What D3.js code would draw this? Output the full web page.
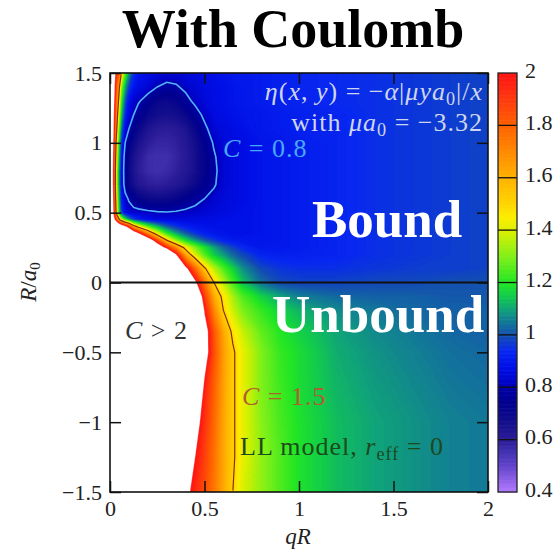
<!DOCTYPE html>
<html><head><meta charset="utf-8">
<script src="https://cdn.jsdelivr.net/npm/d3@7"></script>
<style>body{margin:0;background:#fff} svg{display:block}</style>
</head><body>
<svg id="c" width="557" height="550"></svg>
<script>
// ---- data ----
const qR = [0, 0.01, 0.02, 0.03, 0.04, 0.05, 0.06, 0.08, 0.1, 0.125, 0.15, 0.2, 0.25, 0.3, 0.35, 0.4, 0.45, 0.5, 0.55, 0.6, 0.65, 0.7, 0.8, 0.9, 1.0, 1.2, 1.4, 1.6, 1.8, 2.0];
const Ra0 = [1.5, 1.4, 1.3, 1.2, 1.1, 1.0, 0.9, 0.8, 0.7, 0.6, 0.5, 0.45, 0.4, 0.35, 0.3, 0.25, 0.2, 0.1, 0, -0.1, -0.2, -0.35, -0.5, -0.75, -1.0, -1.25, -1.5];
const C_rows = [
 [3,2.6,2.2,1.95,1.85,1.75,1.5,1.25,1.08,0.95,0.9,0.87,0.85,0.84,0.84,0.85,0.86,0.87,0.88,0.89,0.9,0.9,0.91,0.92,0.93,0.94,0.95,0.96,0.97,0.98],
 [3,2.5,2.1,1.85,1.7,1.5,1.3,1.1,0.97,0.9,0.87,0.84,0.8,0.78,0.79,0.82,0.84,0.86,0.87,0.88,0.89,0.9,0.91,0.92,0.93,0.94,0.95,0.96,0.97,0.98],
 [3,2.4,2.05,1.8,1.6,1.4,1.2,1.0,0.88,0.83,0.81,0.76,0.71,0.7,0.72,0.77,0.82,0.85,0.87,0.88,0.89,0.9,0.91,0.92,0.93,0.94,0.95,0.96,0.97,0.98],
 [3,2.35,2.0,1.75,1.5,1.3,1.12,0.93,0.85,0.8,0.76,0.7,0.67,0.66,0.67,0.7,0.76,0.82,0.86,0.87,0.88,0.89,0.9,0.91,0.92,0.93,0.95,0.96,0.97,0.98],
 [3,2.3,1.95,1.65,1.4,1.2,1.03,0.87,0.8,0.74,0.7,0.64,0.61,0.6,0.61,0.64,0.7,0.78,0.84,0.86,0.87,0.88,0.9,0.91,0.92,0.93,0.95,0.96,0.97,0.98],
 [3,2.25,1.9,1.55,1.3,1.1,0.95,0.8,0.74,0.69,0.65,0.6,0.58,0.58,0.59,0.62,0.67,0.74,0.81,0.85,0.86,0.87,0.89,0.9,0.91,0.93,0.95,0.96,0.97,0.98],
 [3,2.2,1.85,1.5,1.25,1.05,0.9,0.76,0.7,0.65,0.61,0.57,0.56,0.56,0.58,0.61,0.66,0.72,0.79,0.84,0.86,0.87,0.89,0.9,0.91,0.93,0.95,0.96,0.97,0.98],
 [3,2.2,1.8,1.45,1.2,1.02,0.88,0.75,0.69,0.64,0.6,0.57,0.56,0.57,0.59,0.62,0.66,0.72,0.78,0.84,0.86,0.87,0.89,0.9,0.91,0.93,0.95,0.96,0.97,0.98],
 [3,2.2,1.8,1.45,1.2,1.02,0.88,0.76,0.7,0.66,0.63,0.6,0.59,0.6,0.62,0.65,0.69,0.74,0.79,0.84,0.86,0.87,0.89,0.9,0.91,0.93,0.95,0.96,0.97,0.98],
 [3,2.25,1.85,1.5,1.25,1.05,0.92,0.83,0.79,0.75,0.72,0.69,0.68,0.69,0.71,0.74,0.77,0.8,0.83,0.85,0.86,0.87,0.89,0.9,0.91,0.93,0.95,0.96,0.97,0.98],
 [3,2.3,1.9,1.55,1.3,1.1,0.97,0.87,0.84,0.83,0.83,0.82,0.81,0.805,0.81,0.82,0.83,0.84,0.85,0.86,0.87,0.88,0.89,0.9,0.91,0.93,0.95,0.96,0.97,0.98],
 [3,2.4,2.1,1.9,1.7,1.5,1.38,1.2,1.08,0.98,0.93,0.88,0.86,0.86,0.86,0.86,0.86,0.87,0.87,0.88,0.88,0.88,0.89,0.9,0.91,0.93,0.95,0.96,0.97,0.98],
 [3,3,2.8,2.6,2.4,2.3,2.2,2.05,1.9,1.6,1.45,1.25,1.12,1.02,0.96,0.92,0.9,0.89,0.88,0.88,0.88,0.88,0.89,0.9,0.91,0.93,0.95,0.96,0.97,0.98],
 [3,3,3,3,2.9,2.8,2.7,2.5,2.35,2.2,2.02,1.7,1.42,1.22,1.1,1.02,0.96,0.92,0.9,0.89,0.88,0.88,0.89,0.9,0.91,0.93,0.95,0.96,0.97,0.98],
 [3,3,3,3,3,3,3,3,3,2.9,2.6,2.2,1.85,1.52,1.32,1.18,1.09,1.02,0.97,0.93,0.91,0.9,0.89,0.9,0.91,0.93,0.95,0.96,0.97,0.98],
 [3,3,3,3,3,3,3,3,3,3,3,2.8,2.2,1.92,1.68,1.45,1.3,1.19,1.1,1.03,0.98,0.94,0.9,0.9,0.91,0.93,0.95,0.96,0.97,0.98],
 [3,3,3,3,3,3,3,3,3,3,3,3,2.8,2.5,2.0,1.62,1.4,1.25,1.15,1.09,1.03,0.99,0.93,0.92,0.92,0.93,0.95,0.96,0.97,0.98],
 [3,3,3,3,3,3,3,3,3,3,3,3,3,3,2.6,2.05,1.78,1.52,1.36,1.25,1.16,1.08,0.99,0.96,0.95,0.95,0.96,0.97,0.97,0.98],
 [3,3,3,3,3,3,3,3,3,3,3,3,3,3,3,2.6,2.04,1.75,1.5,1.36,1.24,1.14,1.04,0.99,0.98,0.98,0.99,0.99,1.0,1.0],
 [3,3,3,3,3,3,3,3,3,3,3,3,3,3,3,2.8,2.3,1.88,1.62,1.46,1.34,1.25,1.16,1.1,1.06,1.03,1.02,1.02,1.01,1.01],
 [3,3,3,3,3,3,3,3,3,3,3,3,3,3,3,2.9,2.5,1.98,1.7,1.5,1.38,1.3,1.22,1.16,1.12,1.07,1.05,1.03,1.02,1.02],
 [3,3,3,3,3,3,3,3,3,3,3,3,3,3,3,3,2.7,2.1,1.82,1.62,1.47,1.38,1.27,1.2,1.16,1.1,1.07,1.05,1.03,1.02],
 [3,3,3,3,3,3,3,3,3,3,3,3,3,3,3,3,2.7,2.1,1.84,1.65,1.52,1.42,1.3,1.22,1.18,1.11,1.08,1.06,1.04,1.03],
 [3,3,3,3,3,3,3,3,3,3,3,3,3,3,3,2.8,2.3,1.96,1.8,1.64,1.52,1.42,1.3,1.23,1.18,1.12,1.09,1.07,1.05,1.04],
 [3,3,3,3,3,3,3,3,3,3,3,3,3,3,3,2.6,2.08,1.92,1.78,1.63,1.52,1.42,1.31,1.24,1.19,1.13,1.1,1.08,1.06,1.05],
 [3,3,3,3,3,3,3,3,3,3,3,3,3,3,2.8,2.4,2.0,1.88,1.76,1.62,1.52,1.42,1.32,1.25,1.19,1.13,1.1,1.08,1.06,1.05],
 [3,3,3,3,3,3,3,3,3,3,3,3,3,3,2.7,2.05,1.94,1.85,1.74,1.62,1.5,1.4,1.32,1.25,1.19,1.13,1.1,1.08,1.06,1.05]
];
const xTicks = [0, 0.5, 1, 1.5, 2];
const yTicks = [-1.5, -1, -0.5, 0, 0.5, 1, 1.5];
const cbTicks = [0.4, 0.6, 0.8, 1, 1.2, 1.4, 1.6, 1.8, 2];
const lineLevels = [0.8, 1.5];
const cmapStops  = [0.4, 0.5, 0.55, 0.6, 0.68, 0.75, 0.8, 0.82, 0.88, 0.94, 1.0, 1.05, 1.1, 1.15, 1.2, 1.3, 1.4, 1.45, 1.5, 1.6, 1.7, 1.8, 1.9, 2.0];
const cmapColors = ['#b47cff','#6444cc','#4434b4','#2c1c98','#100c8c','#000090','#0000a8','#0004c8','#0010e8','#0828f0','#1450b0','#127898','#10a478','#12cc4c','#22e624','#80f01a','#dcf000','#fcee00','#ffd600','#ffb200','#ff8a00','#ff6200','#ff3a10','#ff1414'];

// ---- layout ----
const svg = d3.select('#c');
const L = 110, R = 488, T = 73, B = 492;
const x = d3.scaleLinear().domain([0, 2]).range([L, R]);
const y = d3.scaleLinear().domain([-1.5, 1.5]).range([B, T]);
const cmap = d3.scaleLinear().domain(cmapStops).range(cmapColors).clamp(true);
const SERIF = "'Liberation Serif', 'Times New Roman', serif";

const defs = svg.append('defs');
defs.append('clipPath').attr('id', 'plotclip').append('rect').attr('x', L).attr('y', T).attr('width', R - L).attr('height', B - T);
defs.append('clipPath').attr('id', 'lineclip').append('rect').attr('x', L + 1.5).attr('y', T + 1.5).attr('width', R - L - 3).attr('height', B - T - 3);

// ---- heat field via contours ----
const nx = qR.length, ny = Ra0.length;
const values = C_rows.flat();
const colToX = d3.scaleLinear().domain(d3.range(nx)).range(qR).clamp(true);
const rowToY = d3.scaleLinear().domain(d3.range(ny)).range(Ra0).clamp(true);
const proj = d3.geoTransform({ point(px, py) { this.stream.point(x(colToX(px - 0.5)), y(rowToY(py - 0.5))); } });
const path = d3.geoPath(proj);
const step = 0.005;
const thresholds = d3.range(0, 321).map(i => +(0.4 + i * step).toFixed(3));
const bands = d3.contours().size([nx, ny]).thresholds(thresholds)(values);

const gField = svg.append('g').attr('clip-path', 'url(#plotclip)');
gField.selectAll('path').data(bands).join('path')
  .attr('d', path)
  .attr('fill', d => d.value >= 2 ? '#ffffff' : cmap(d.value + step / 2))
  .attr('stroke', d => d.value >= 2 ? '#ffffff' : cmap(d.value + step / 2))
  .attr('stroke-width', 0.3);

// contour lines
const lines = d3.contours().size([nx, ny]).thresholds(lineLevels)(values);
svg.append('g').attr('clip-path', 'url(#lineclip)')
  .selectAll('path').data(lines).join('path')
  .attr('d', path).attr('fill', 'none')
  .attr('stroke', d => d.value === 0.8 ? '#50b4ff' : '#8a2a08')
  .attr('stroke-width', d => d.value === 0.8 ? 1.6 : 1.2);

// zero line
svg.append('line').attr('x1', L).attr('x2', R).attr('y1', y(0)).attr('y2', y(0))
  .attr('stroke', '#111').attr('stroke-width', 2);

// ---- axes ----
const fmt = v => (v < 0 ? '\u2212' : '') + Math.abs(v);
function styleAxis(g) {
  g.select('.domain').remove();
  g.selectAll('.tick line').attr('stroke', '#111').attr('stroke-width', 1.5);
  g.selectAll('.tick text').attr('font-family', SERIF).attr('font-size', 22).attr('fill', '#222');
}
svg.append('g').attr('transform', `translate(0,${B})`)
  .call(d3.axisBottom(x).tickValues(xTicks).tickSize(-11).tickPadding(8).tickFormat(fmt)).call(styleAxis);
svg.append('g').attr('transform', `translate(0,${T})`)
  .call(d3.axisTop(x).tickValues(xTicks).tickSize(-11).tickFormat('')).call(styleAxis);
svg.append('g').attr('transform', `translate(${L},0)`)
  .call(d3.axisLeft(y).tickValues(yTicks).tickSize(-11).tickPadding(8).tickFormat(fmt)).call(styleAxis);
svg.append('g').attr('transform', `translate(${R},0)`)
  .call(d3.axisRight(y).tickValues(yTicks).tickSize(-11).tickFormat('')).call(styleAxis);

svg.append('rect').attr('x', L).attr('y', T).attr('width', R - L).attr('height', B - T)
  .attr('fill', 'none').attr('stroke', '#111').attr('stroke-width', 1.6);

// axis labels
svg.append('text').attr('x', 298).attr('y', 544).attr('text-anchor', 'middle')
  .attr('font-family', SERIF).attr('font-size', 23).attr('font-style', 'italic').attr('fill', '#222').text('qR');
const yl = svg.append('text').attr('transform', 'translate(36,282) rotate(-90)').attr('text-anchor', 'middle')
  .attr('font-family', SERIF).attr('font-size', 23).attr('fill', '#222');
yl.append('tspan').attr('font-style', 'italic').text('R');
yl.append('tspan').text('/');
yl.append('tspan').attr('font-style', 'italic').text('a');
yl.append('tspan').attr('font-size', 15).attr('dy', 4).text('0');

// ---- colorbar ----
const CBX = 498, CBW = 19;
const cb = d3.scaleLinear().domain([0.4, 2]).range([B, T]);
const cbSteps = d3.range(0, 320).map(i => 0.4 + i * 0.005);
svg.append('g').selectAll('rect').data(cbSteps).join('rect')
  .attr('x', CBX).attr('width', CBW)
  .attr('y', d => cb(d + 0.005)).attr('height', d => cb(d) - cb(d + 0.005) + 0.6)
  .attr('fill', d => cmap(d + 0.0025));
svg.append('g').selectAll('line').data(cbTicks.slice(1, -1)).join('line')
  .attr('x1', CBX).attr('x2', CBX + CBW).attr('y1', d => cb(d)).attr('y2', d => cb(d))
  .attr('stroke', '#111').attr('stroke-width', 1.3);
svg.append('rect').attr('x', CBX).attr('y', T).attr('width', CBW).attr('height', B - T)
  .attr('fill', 'none').attr('stroke', '#222').attr('stroke-width', 1.3);
svg.append('g').attr('transform', `translate(${CBX + CBW},-3)`)
  .call(d3.axisRight(cb).tickValues(cbTicks).tickSize(0).tickPadding(8).tickFormat(fmt)).call(styleAxis);

// ---- annotations ----
svg.append('text').attr('x', 293).attr('y', 47).attr('text-anchor', 'middle')
  .attr('font-family', SERIF).attr('font-size', 54).attr('font-weight', 'bold').attr('fill', '#000').text('With Coulomb');

function mathText(xp, yp, anchor, color, size, parts) {
  const t = svg.append('text').attr('x', xp).attr('y', yp).attr('text-anchor', anchor)
    .attr('font-family', SERIF).attr('font-size', size).attr('letter-spacing', 1).attr('fill', color);
  parts.forEach(p => {
    const s = t.append('tspan').text(p[0]);
    if (p[1] === 'i') s.attr('font-style', 'italic');
    if (p[1] === 'sub') s.attr('font-size', size * 0.7).attr('dy', 5);
    if (p[1] === 'up') s.attr('dy', -5);
  });
  return t;
}
mathText(483, 100, 'end', '#cdd6ee', 26, [['η', 'i'], ['('], ['x', 'i'], [', '], ['y', 'i'], [')  =  \u2212'], ['α', 'i'], ['|'], ['μya', 'i'], ['0', 'sub'], ['|/', 'up'], ['x', 'i']]);
mathText(483, 131, 'end', '#cdd6ee', 26, [['with  '], ['μa', 'i'], ['0', 'sub'], ['  =  \u22123.32', 'up']]);
mathText(223, 157, 'start', '#4aa8ff', 26, [['C', 'i'], ['  =  0.8']]);
mathText(125, 339, 'start', '#333', 26, [['C', 'i'], ['  >  2']]);
mathText(242, 405, 'start', '#b0602c', 26, [['C', 'i'], ['  =  1.5']]);
mathText(240, 455, 'start', '#1c4a1c', 26, [['LL model, '], ['r', 'i'], ['eff', 'sub'], ['  =  0', 'up']]);

svg.append('text').attr('x', 312).attr('y', 237).attr('font-family', SERIF).attr('font-size', 53)
  .attr('font-weight', 'bold').attr('fill', '#fff').text('Bound');
svg.append('text').attr('x', 272).attr('y', 332).attr('font-family', SERIF).attr('font-size', 53)
  .attr('font-weight', 'bold').attr('fill', '#fff').text('Unbound');
</script>
</body></html>
